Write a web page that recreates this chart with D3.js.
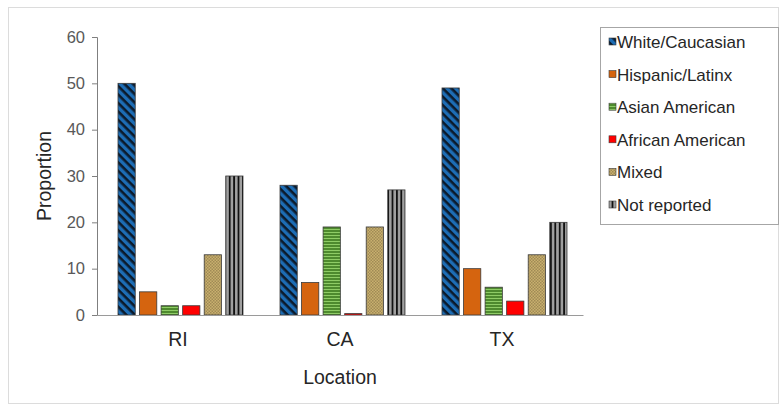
<!DOCTYPE html>
<html>
<head>
<style>
  body { margin: 0; background: #fff; }
  text { font-family: "Liberation Sans", Arial, sans-serif; }
</style>
<script src="https://d3js.org/d3.v7.min.js"></script>
</head>
<body>
<svg width="784" height="407"></svg>
<script>
const locations = ["RI", "CA", "TX"]
const groups = ["White/Caucasian", "Hispanic/Latinx", "Asian American", "African American", "Mixed", "Not reported"]
const white = [50, 28, 49]
const hispanic = [5, 7, 10]
const asian = [2, 19, 6]
const african = [2, 0.3, 3]
const mixed = [13, 19, 13]
const notReported = [30, 27, 20]
const yTicks = [0, 10, 20, 30, 40, 50, 60]

const series = [white, hispanic, asian, african, mixed, notReported]
const fills = ["url(#pWhite)", "#d5640f", "url(#pAsian)", "#ff0000", "url(#pMixed)", "url(#pNot)"]

const svg = d3.select("svg")
const defs = svg.append("defs")

// patterns roughly like the Excel fills
let p = defs.append("pattern").attr("id", "pWhite").attr("patternUnits", "userSpaceOnUse")
  .attr("width", 6).attr("height", 6).attr("patternTransform", "rotate(45)")
p.append("rect").attr("width", 6).attr("height", 6).attr("fill", "#1d6db5")
p.append("rect").attr("width", 6).attr("height", 2.6).attr("fill", "#0b1a2b")

p = defs.append("pattern").attr("id", "pAsian").attr("patternUnits", "userSpaceOnUse")
  .attr("width", 4).attr("height", 3)
p.append("rect").attr("width", 4).attr("height", 3).attr("fill", "#4e8a2e")
p.append("rect").attr("y", 1).attr("width", 4).attr("height", 1).attr("fill", "#8fcc66")

p = defs.append("pattern").attr("id", "pMixed").attr("patternUnits", "userSpaceOnUse")
  .attr("width", 3).attr("height", 3)
p.append("rect").attr("width", 3).attr("height", 3).attr("fill", "#c9b06e")
p.append("rect").attr("width", 1.5).attr("height", 1.5).attr("fill", "#a08a55")
p.append("rect").attr("x", 1.5).attr("y", 1.5).attr("width", 1.5).attr("height", 1.5).attr("fill", "#a08a55")

p = defs.append("pattern").attr("id", "pNot").attr("patternUnits", "userSpaceOnUse")
  .attr("width", 4.4).attr("height", 4)
p.append("rect").attr("width", 4.4).attr("height", 4).attr("fill", "#a0a0a0")
p.append("rect").attr("width", 1.8).attr("height", 4).attr("fill", "#111")

// outer frame
svg.append("rect").attr("x", 8.5).attr("y", 7.5).attr("width", 770).attr("height", 396)
  .attr("fill", "none").attr("stroke", "#dcdcdc")

const margin = { left: 97, right: 583, top: 37, bottom: 315 }
const x = d3.scaleBand().domain(locations).range([margin.left, margin.right])
const x1 = d3.scaleBand().domain(d3.range(groups.length)).range([21, 146]).paddingInner(0.2)
const y = d3.scaleLinear().domain([0, 60]).range([margin.bottom, margin.top])

// bars
locations.forEach((loc, i) => {
  series.forEach((s, j) => {
    svg.append("rect")
      .attr("x", x(loc) + x1(j))
      .attr("y", y(s[i]))
      .attr("width", x1.bandwidth())
      .attr("height", y(0) - y(s[i]))
      .attr("fill", fills[j])
      .attr("stroke", "#3a3a3a")
      .attr("stroke-width", 0.8)
  })
})

// y axis
const yAxis = svg.append("g").attr("transform", `translate(${margin.left},0)`)
  .call(d3.axisLeft(y).tickValues(yTicks).tickSize(5).tickPadding(7))
yAxis.select(".domain").attr("stroke", "#7f7f7f")
yAxis.selectAll(".tick line").attr("stroke", "#7f7f7f")
yAxis.selectAll("text").attr("font-size", 16.5).attr("fill", "#595959")

// x axis
const xAxis = svg.append("g").attr("transform", `translate(0,${margin.bottom})`)
  .call(d3.axisBottom(x).tickSize(0).tickPadding(17))
xAxis.select(".domain").attr("stroke", "#9a9a9a")
xAxis.selectAll("text").attr("font-size", 19.5).attr("fill", "#262626")

svg.append("text").attr("x", 340).attr("y", 384).attr("text-anchor", "middle")
  .attr("font-size", 19.5).attr("fill", "#262626").text("Location")
svg.append("text").attr("transform", "translate(51,176) rotate(-90)").attr("text-anchor", "middle")
  .attr("font-size", 19.5).attr("fill", "#262626").text("Proportion")

// legend
svg.append("rect").attr("x", 600.5).attr("y", 27.5).attr("width", 178).attr("height", 197)
  .attr("fill", "#fff").attr("stroke", "#a6a6a6")
const ly = d3.scalePoint().domain(groups).range([42, 205])
groups.forEach((g, j) => {
  svg.append("rect").attr("x", 609).attr("y", ly(g) - 4).attr("width", 7).attr("height", 7)
    .attr("fill", fills[j]).attr("stroke", "#3a3a3a").attr("stroke-width", 0.6)
  svg.append("text").attr("x", 617).attr("y", ly(g) + 6).attr("font-size", 17)
    .attr("fill", "#262626").text(g)
})
</script>
</body>
</html>
